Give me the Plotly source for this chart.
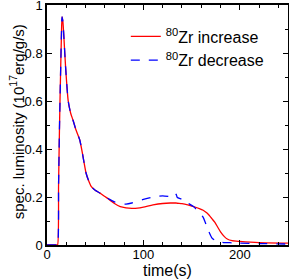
import plotly.graph_objects as go

t = [0, 10, 11, 12, 13, 14, 15, 15.6, 16.5, 17.6, 19.3, 22, 24.5, 27, 30, 34, 38, 40.5, 43, 46, 50, 55, 60,
     65, 70, 76, 82, 88, 94, 100, 110, 120, 128, 133, 134, 135, 140, 146, 152, 158, 162, 166, 168, 171, 174,
     177, 180, 184, 187, 192, 200, 220, 250]
zr_increase = [0, 0, 0, 0.25, 0.5, 0.7, 0.88, 0.95, 0.93, 0.86, 0.74, 0.6, 0.55, 0.52, 0.48, 0.4375, 0.354,
               0.3, 0.27, 0.243, 0.228, 0.216, 0.202, 0.188, 0.173, 0.16, 0.155, 0.153, 0.154, 0.158, 0.167,
               0.173, 0.175, 0.175, 0.175, 0.174, 0.172, 0.167, 0.16, 0.152, 0.145, 0.133, 0.125, 0.11, 0.095,
               0.075, 0.055, 0.035, 0.025, 0.018, 0.015, 0.01, 0.008]
zr_decrease = [0, 0, 0, 0.25, 0.5, 0.7, 0.88, 0.95, 0.93, 0.86, 0.74, 0.6, 0.55, 0.52, 0.48, 0.4375, 0.354,
               0.3, 0.27, 0.243, 0.228, 0.216, 0.202, 0.19, 0.18, 0.172, 0.17, 0.175, 0.183, 0.19, 0.2,
               0.205, 0.201, 0.199, 0.212, 0.199, 0.19, 0.175, 0.16, 0.135, 0.115, 0.075, 0.055, 0.03, 0.02,
               0.015, 0.012, 0.01, 0.01, 0.009, 0.008, 0.006, 0.004]

FONT = "Liberation Sans, Arial"

fig = go.Figure()
fig.add_trace(go.Scatter(x=t, y=zr_increase, mode="lines", name="<sup>80</sup>Zr increase",
                         line=dict(color="#ff0000", width=1.3, shape="spline", smoothing=0.6)))
fig.add_trace(go.Scatter(x=t, y=zr_decrease, mode="lines", name="<sup>80</sup>Zr decrease",
                         line=dict(color="#0000ff", width=1.3, dash="dash", shape="spline", smoothing=0.6)))

axis_common = dict(showline=True, linecolor="black", linewidth=1.5, mirror="allticks",
                   ticks="inside", ticklen=5, tickcolor="black", showgrid=False, zeroline=False,
                   automargin=False, ticklabeloverflow="allow",
                   tickfont=dict(family=FONT, size=13, color="black"),
                   minor=dict(ticks="inside", ticklen=3, tickcolor="black"))

fig.update_xaxes(range=[0, 250], tickvals=[0, 100, 200], minor_dtick=20, ticklabelstandoff=-3,
                 **axis_common)
fig.update_yaxes(range=[0, 1], tickvals=[0, 0.2, 0.4, 0.6, 0.8, 1],
                 ticktext=["0", "0.2", "0.4", "0.6", "0.8", "1"], minor_dtick=0.1, **axis_common)

fig.add_annotation(text="time(s)", xref="paper", yref="paper", x=0.5, y=-0.108, xanchor="center",
                   yanchor="middle", showarrow=False, font=dict(family=FONT, size=16, color="black"))
fig.add_annotation(text="spec. luminosity (10<sup>17</sup>erg/g/s)", xref="paper", yref="paper",
                   x=-0.125, y=0.515, xanchor="center", yanchor="middle", textangle=-90, showarrow=False,
                   font=dict(family=FONT, size=15, color="black"))

fig.update_layout(width=289, height=279, margin=dict(l=47, r=1, t=5, b=34),
                  paper_bgcolor="white", plot_bgcolor="white",
                  legend=dict(x=0.327, y=0.94, xanchor="left", yanchor="top", bgcolor="rgba(0,0,0,0)",
                              font=dict(family=FONT, size=16, color="black"),
                              tracegroupgap=0, itemwidth=30),
                  showlegend=True)

fig.write_html("out.html", config={"displayModeBar": False},
               post_script="document.body.style.margin='0';document.body.style.overflow='hidden';")
